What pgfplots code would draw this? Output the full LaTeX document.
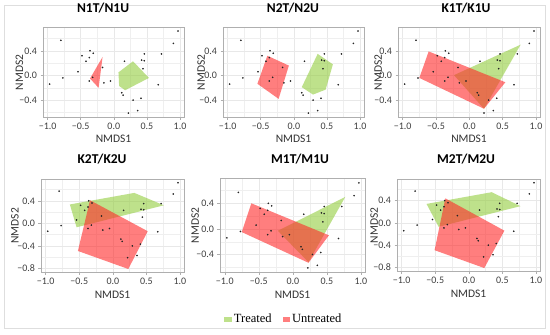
\documentclass[border=0pt]{standalone}
\usepackage{pgfplots}
\pgfplotsset{compat=1.18}
\usepackage{pgfplotstable}
\usepackage{fontspec}
\setmainfont{Carlito}
\newfontfamily\legfont{Liberation Serif}
\definecolor{tgreen}{RGB}{147,205,63}
\definecolor{ured}{RGB}{255,40,40}
\definecolor{gridc}{RGB}{232,232,232}
\definecolor{framec}{RGB}{175,175,175}
\definecolor{outerc}{RGB}{222,222,222}

\pgfplotstableread{
x y
-0.80 0.57
-0.97 -0.14
-0.77 -0.04
-0.54 0.06
-0.48 0.32
-0.42 0.23
-0.36 0.40
-0.37 0.29
-0.31 0.36
-0.37 -0.09
-0.32 -0.03
-0.17 0.13
-0.15 -0.12
-0.05 -0.09
0.16 0.23
0.12 -0.28
0.14 -0.32
0.29 -0.40
0.22 -0.61
0.36 -0.57
0.41 -0.37
0.42 0.25
0.46 0.24
0.46 0.35
0.44 0.11
0.72 0.35
0.67 -0.15
0.90 0.52
0.97 0.72
}\pts

\pgfplotsset{
  nmds/.style={
    scale only axis,
    anchor=north west,
    xmin=-1.07, xmax=1.06,
    xtick={-1,-0.5,0,0.5,1},
    xticklabels={−1.0,−0.5,0.0,0.5,1.0},
    minor xtick={-0.75,-0.25,0.25,0.75},
    grid=both,
    major grid style={gridc, line width=0.5pt},
    minor grid style={gridc!70, line width=0.3pt},
    axis line style={framec, line width=0.6pt},
    tick style={framec, line width=0.5pt},
    tick align=outside,
    major tick length=2.5pt,
    minor tick length=0pt,
    tick pos=left,
    tick label style={font=\fontsize{10}{11}\selectfont, text=black!75},
    label style={font=\fontsize{11.5}{12}\selectfont, text=black!80},
    xlabel={NMDS1}, ylabel={NMDS2},
    title style={font=\bfseries\fontsize{13.5}{14}\selectfont, anchor=center},
  },
  toprow/.style={
    ymin=-0.68, ymax=0.78,
    ytick={-0.4,0,0.4},
    yticklabels={−0.4,0.0,0.4},
    minor ytick={-0.6,-0.2,0.2,0.6},
  },
  botrow/.style={
    ymin=-0.87, ymax=0.78,
    ytick={-0.8,-0.4,0,0.4},
    yticklabels={−0.8,−0.4,0.0,0.4},
    minor ytick={-0.6,-0.2,0.2,0.6},
  },
  gpoly/.style={fill=tgreen, draw=none, fill opacity=0.6, forget plot},
  rpoly/.style={fill=ured, draw=none, fill opacity=0.6, forget plot},
  dots/.style={only marks, mark=*, mark size=0.6pt, black!85, forget plot},
}

\begin{document}
\begin{tikzpicture}
\fill[white] (0pt,0pt) rectangle (550pt,333pt);
\draw[outerc, line width=0.8pt] (4pt,6pt) rectangle (545pt,329pt);

% ---------- N1 ----------
\begin{axis}[nmds, toprow, at={(43pt,307pt)}, width=141pt, height=90pt,
  title={N1T/N1U}, title style={at={(axis description cs:0.426,1)}, yshift=13pt},
  xlabel style={at={(axis description cs:0.5,0)}, anchor=center, yshift=-21pt},
  ylabel style={at={(axis description cs:-0.168,0.5)}, anchor=center}]
\addplot[gpoly] coordinates {(0.07,0.05)(0.29,0.23)(0.53,-0.04)(0.17,-0.24)(0.08,-0.17)} -- cycle;
\addplot[rpoly] coordinates {(-0.17,0.30)(-0.36,-0.05)(-0.23,-0.20)} -- cycle;
\addplot[dots] table[x=x,y=y] {\pts};
\end{axis}

% ---------- N2 ----------
\begin{axis}[nmds, toprow, at={(223pt,307pt)}, width=141pt, height=90pt,
  title={N2T/N2U}, title style={at={(axis description cs:0.496,1)}, yshift=13pt},
  xlabel style={at={(axis description cs:0.5,0)}, anchor=center, yshift=-21pt},
  ylabel style={at={(axis description cs:-0.155,0.5)}, anchor=center}]
\addplot[gpoly] coordinates {(0.36,0.35)(0.59,0.18)(0.48,-0.23)(0.29,-0.31)(0.12,-0.19)} -- cycle;
\addplot[rpoly] coordinates {(-0.40,0.32)(-0.075,0.16)(-0.23,-0.38)(-0.55,-0.135)} -- cycle;
\addplot[dots] table[x=x,y=y] {\pts};
\end{axis}

% ---------- K1 ----------
\begin{axis}[nmds, toprow, at={(398pt,307pt)}, width=142pt, height=90pt,
  title={K1T/K1U}, title style={at={(axis description cs:0.479,1)}, yshift=13pt},
  xlabel style={at={(axis description cs:0.5,0)}, anchor=center, yshift=-21pt},
  ylabel style={at={(axis description cs:-0.14,0.5)}, anchor=center}]
\addplot[gpoly] coordinates {(-0.23,0.005)(0.77,0.50)(0.22,-0.54)} -- cycle;
\addplot[rpoly] coordinates {(-0.61,0.39)(0.54,-0.11)(0.22,-0.54)(-0.75,-0.04)} -- cycle;
\addplot[dots] table[x=x,y=y] {\pts};
\end{axis}

% ---------- K2 ----------
\begin{axis}[nmds, botrow, at={(41pt,155pt)}, width=143pt, height=93pt,
  title={K2T/K2U}, title style={at={(axis description cs:0.427,1)}, yshift=14pt},
  xlabel style={at={(axis description cs:0.5,0)}, anchor=center, yshift=-22pt},
  ylabel style={at={(axis description cs:-0.182,0.5)}, anchor=center}]
\addplot[gpoly] coordinates {(-0.64,0.335)(0.32,0.54)(0.76,0.32)(-0.54,-0.07)} -- cycle;
\addplot[rpoly] coordinates {(-0.34,0.41)(0.52,-0.14)(0.23,-0.81)(-0.52,-0.49)} -- cycle;
\addplot[dots] table[x=x,y=y] {\pts};
\end{axis}

% ---------- M1 ----------
\begin{axis}[nmds, toprow, ymax=0.79, at={(220pt,156pt)}, width=145pt, height=94pt,
  title={M1T/M1U}, title style={at={(axis description cs:0.552,1)}, yshift=13pt},
  xlabel style={at={(axis description cs:0.5,0)}, anchor=center, yshift=-22pt},
  ylabel style={at={(axis description cs:-0.172,0.5)}, anchor=center},
  legend style={at={(axis description cs:0.441,-0.50)}, anchor=center, draw=none, fill=none,
    legend columns=2, font=\legfont\fontsize{12.5}{13}\selectfont,
    /tikz/every even column/.append style={column sep=9pt},
    legend cell align=left, inner sep=0pt},
  legend image code/.code={\fill[#1] (0pt,-2.5pt) rectangle (7.5pt,2.5pt);}]
\addplot[gpoly] coordinates {(-0.22,-0.03)(0.77,0.50)(0.23,-0.52)} -- cycle;
\addplot[rpoly] coordinates {(-0.61,0.40)(0.53,-0.10)(0.23,-0.53)(-0.75,-0.05)} -- cycle;
\addplot[dots] table[x=x,y=y] {\pts};
\addlegendimage{fill=tgreen, fill opacity=0.6, draw=none}
\addlegendentry{Treated}
\addlegendimage{fill=ured, fill opacity=0.6, draw=none}
\addlegendentry{Untreated}
\end{axis}

% ---------- M2 ----------
\begin{axis}[nmds, botrow, at={(397pt,155pt)}, width=143pt, height=92pt,
  title={M2T/M2U}, title style={at={(axis description cs:0.483,1)}, yshift=14pt},
  xlabel style={at={(axis description cs:0.5,0)}, anchor=center, yshift=-22pt},
  ylabel style={at={(axis description cs:-0.16,0.5)}, anchor=center}]
\addplot[gpoly] coordinates {(-0.63,0.34)(0.34,0.55)(0.77,0.30)(-0.45,-0.07)} -- cycle;
\addplot[rpoly] coordinates {(-0.35,0.44)(0.53,-0.14)(0.23,-0.81)(-0.51,-0.49)} -- cycle;
\addplot[dots] table[x=x,y=y] {\pts};
\end{axis}
\end{tikzpicture}
\end{document}
